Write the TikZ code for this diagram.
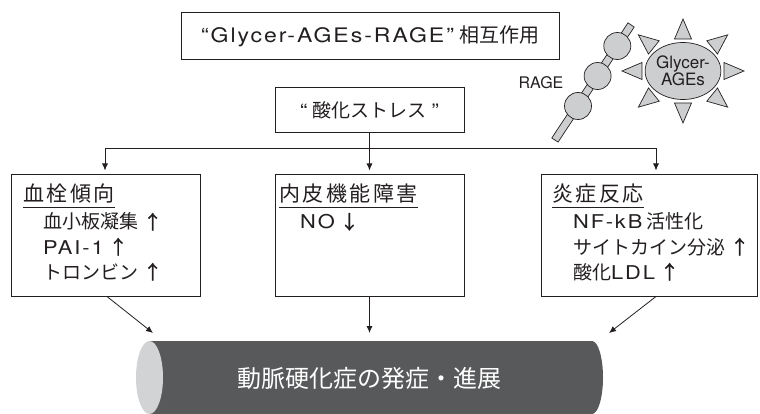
\documentclass[tikz,border=0pt]{standalone}
\usepackage{fontspec}
\setmainfont{Noto Sans CJK JP}
\newfontfamily\lat{TeX Gyre Heros}[FakeStretch=1.15,LetterSpace=10]
\newfontfamily\plainsans{TeX Gyre Heros}
\newfontfamily\headfont{Noto Sans CJK JP}[LetterSpace=12]
\newfontfamily\arrowfont{Noto Sans CJK JP}[BoldFont=*, FakeBold=1.2]
\usetikzlibrary{arrows.meta,shapes.geometric,calc}

\definecolor{ink}{HTML}{231F20}
\definecolor{tube}{HTML}{58595B}
\definecolor{capgray}{HTML}{D1D3D4}
\definecolor{partgray}{HTML}{CDCED0}

% rising / falling marks after an item
\newcommand\incr{\hspace{5pt}{\arrowfont\bfseries ↑}}
\newcommand\decr{\hspace{5pt}{\arrowfont\bfseries ↓}}

\tikzset{
  frame/.style={draw=ink, line width=1pt, fill=white, inner sep=0pt},
  link/.style={draw=ink, line width=0.8pt},
  arr/.style={link, -{Latex[length=7pt,width=6pt]}},
  item/.style={anchor=base west, inner sep=0pt, text=ink,
    font=\fontsize{19pt}{22pt}\selectfont},
  head/.style={anchor=base west, inner sep=0pt, text=ink,
    font=\headfont\fontsize{21pt}{24pt}\selectfont},
  uline/.style={draw=ink, line width=0.8pt},
  ray/.style={draw=ink, line width=0.7pt, fill=partgray, line join=miter},
  part/.style={draw=ink, line width=0.7pt, fill=partgray, inner sep=0pt}
}

\begin{document}
\begin{tikzpicture}[x=1pt,y=-1pt]
\useasboundingbox (0,0) rectangle (760,414);

% title and oxidative stress boxes
\node[frame, minimum width=378pt, minimum height=47pt,
      font=\fontsize{20pt}{24pt}\selectfont, text=ink]
  (title) at (370,36.5) {{\lat “Glycer-AGEs-RAGE”}\hspace{5pt}相互作用};
\node[frame, minimum width=189pt, minimum height=45pt,
      font=\fontsize{19pt}{24pt}\selectfont, text=ink]
  (ox) at (369.5,110.5) {{\lat “}\hspace{5pt}酸化ストレス\hspace{5pt}{\lat ”}};

% RAGE receptor
\node[part, minimum width=138pt, minimum height=7.5pt, rotate=56.5]
  (rod) at (593,82.5) {};
\node[part, circle, minimum size=27pt] (bead1) at (578,106) {};
\node[part, circle, minimum size=27pt] (bead2) at (597.6,76) {};
\node[part, circle, minimum size=27pt] (bead3) at (617.3,46) {};
\node[inner sep=0pt, text=ink, font=\plainsans\fontsize{16pt}{18pt}\selectfont]
  (ragelbl) at (541,83) {RAGE};

% Glycer-AGEs with rays
\node[part, ellipse, minimum width=66pt, minimum height=57pt, align=center,
      text=ink, font=\plainsans\fontsize{17pt}{17pt}\selectfont]
  (ages) at (683,71) {Glycer-\\AGEs};
\begin{scope}[shift={(ages.center)}]
  \foreach \a/\d in {0/51,39/47.5,90/42,141/47.5,180/51,219/47.5,270/42,321/47.5}
    \draw[ray, rotate=\a] ({\d+10},0) -- ({\d-10},8.5) -- ({\d-10},-8.5) -- cycle;
\end{scope}

% three consequence boxes
\node[frame, minimum width=189pt, minimum height=121pt] (thromb) at (105.5,235.5) {};
\node[frame, minimum width=189pt, minimum height=121pt] (endo) at (369.5,235.5) {};
\node[frame, minimum width=216pt, minimum height=121pt] (infl) at (649,235.5) {};

\node[head] (thrombh) at (23,202) {血栓傾向};
\draw[uline] ([yshift=-5pt]thrombh.base west) -- ([yshift=-5pt]thrombh.base east);
\node[item] (thromb1) at (43,229) {血小板凝集\incr};
\node[item] (thromb2) at (43,254) {{\lat PAI-1}\incr};
\node[item] (thromb3) at (43,279) {トロンビン\incr};

\node[head] (endoh) at (279,202) {内皮機能障害};
\draw[uline] ([yshift=-5pt]endoh.base west) -- ([yshift=-5pt]endoh.base east);
\node[item] (endo1) at (300,229) {{\lat NO}\decr};

\node[head] (inflh) at (552,202) {炎症反応};
\draw[uline] ([yshift=-5pt]inflh.base west) -- ([yshift=-5pt]inflh.base east);
\node[item] (infl1) at (573,229) {{\lat NF-kB}\hspace{4pt}活性化};
\node[item] (infl2) at (573,254) {サイトカイン分泌\incr};
\node[item] (infl3) at (573,279) {酸化{\lat LDL}\incr};

% distribution bus
\coordinate (busL) at (105,148);
\coordinate (busM) at (369.5,148);
\coordinate (busR) at (656,148);
\draw[link] (ox.south) -- (busM);
\draw[link] (busL) -- (busR);
\draw[arr, shorten >=4pt] (busL) -- (busL |- thromb.north);
\draw[arr, shorten >=4pt] (busM) -- (endo.north);
\draw[arr, shorten >=4pt] (busR) -- (busR |- infl.north);

% artery tube
\fill[tube] (149.5,341) rectangle (592,414);
\fill[tube] (592,377.5) ellipse [x radius=11pt, y radius=36.5pt];
\fill[capgray] (149.5,377.5) ellipse [x radius=13.5pt, y radius=36.5pt];
\node[inner sep=0pt, text=white, font=\fontsize{24pt}{28pt}\selectfont]
  (athero) at (369,378) {動脈硬化症の発症・進展};

\coordinate (tipL) at (153,333);
\coordinate (tipM) at (369.5,333);
\coordinate (tipR) at (609,333);
\draw[arr] ([xshift=1.5pt]thromb.south) -- (tipL);
\draw[arr] (endo.south) -- (tipM);
\draw[arr] ([xshift=7pt]infl.south) -- (tipR);
\end{tikzpicture}
\end{document}
